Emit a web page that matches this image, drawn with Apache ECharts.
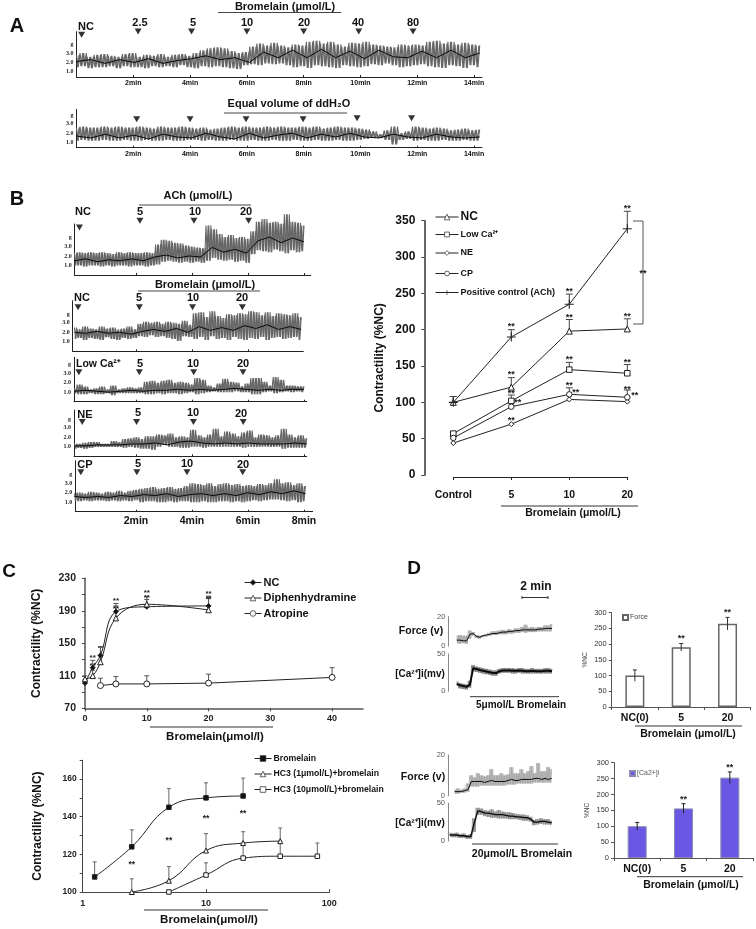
<!DOCTYPE html>
<html><head><meta charset="utf-8">
<style>html,body{margin:0;padding:0;background:#fff}#c{width:756px;height:929px;filter:blur(0.35px)}</style>
<script src="https://cdn.jsdelivr.net/npm/echarts@6/dist/echarts.min.js"></script>
</head><body><div id="c"></div>
<script>
// ---------- Panel A traces (g) ----------
const a1Hi=[2.8,3.0,2.6,2.8,2.9,2.7,2.6,2.9,3.0,2.6,2.8,2.7,2.9,2.6,2.8,2.9,2.7,3.0,3.3,3.5,3.6,3.5,3.2,3.0,3.1,3.7,4.0,3.8,4.1,3.8,3.6,3.9,3.8,4.2,4.3,4.0,4.2,3.9,3.7,4.1,4.0,4.2,3.9,3.8,3.7,3.6,3.9,3.8,3.9,3.8,4.2,4.3,4.0,4.2,3.9,4.1,3.9,3.8];
const a1Lo=[1.5,1.6,1.4,1.5,1.5,1.6,1.4,1.6,1.5,1.5,1.4,1.6,1.5,1.6,1.5,1.7,1.5,1.4,1.6,1.5,1.6,1.5,1.4,1.3,1.7,1.8,1.7,1.9,1.8,1.9,1.7,1.5,1.6,1.4,1.7,1.6,1.5,1.4,1.7,1.6,1.5,1.6,1.8,1.7,1.9,1.7,1.5,1.6,1.7,1.8,1.6,1.5,1.4,1.7,1.6,1.4,1.7,1.5];
const a1Mid=[2.1,2.3,1.9,2.3,2.0,2.4,1.9,2.2,2.4,2.7,2.3,2.5,2.0,3.1,2.5,3.3,2.5,3.4,2.5,3.2,2.4,3.3,2.6,2.5,3.2,2.5,3.3,2.5,3.0];
const a2Hi=[2.6,2.7,2.6,2.6,2.7,2.6,2.7,2.6,2.6,2.7,2.6,2.5,2.7,2.6,2.6,2.7,2.6,2.5,2.6,2.4,2.5,2.6,2.7,2.6,2.7,2.6,2.6,2.7,2.6,2.7,2.6,2.6,2.7,2.6,2.7,2.5,2.6,2.7,2.6,2.6,2.5,2.4,2.2,1.9,2.3,2.7,2.0,2.2,2.7,2.6,2.5,2.6,2.5,2.3,2.4,2.5,2.3,2.4];
const a2Lo=[1.2,1.3,1.2,1.2,1.3,1.2,1.2,1.3,1.2,1.2,1.3,1.2,1.2,1.3,1.2,1.2,1.3,1.3,1.2,1.3,1.2,1.2,1.3,1.2,1.2,1.3,1.2,1.2,1.3,1.2,1.2,1.3,1.2,1.2,1.3,1.2,1.2,1.3,1.2,1.2,1.3,1.4,1.5,1.5,1.3,0.8,1.3,1.4,1.2,1.3,1.2,1.2,1.3,1.2,1.2,1.3,1.2,1.2];
const a2Mid=[1.7,1.5,1.9,1.5,1.8,1.4,1.9,1.6,1.5,2.0,1.6,1.4,2.0,1.5,1.8,2.0,1.5,1.9,1.6,2.0,1.6,1.5,1.9,1.6,1.5,1.9,1.6,1.5,1.6];
const a1ArrowT=[0.18,2.17,4.05,6.0,8.0,9.94,11.85], a1ArrowV=[4.95,5.3,5.3,5.3,5.3,5.3,5.3];
const a2ArrowT=[2.12,4.0,5.97,7.98,9.88,11.8], a2ArrowV=[3.5,3.5,3.5,3.5,3.6,3.6];
// ---------- Panel B traces (g) ----------
const t1Hi=[2.3,2.4,2.3,2.4,2.3,2.4,2.3,2.2,2.4,2.3,2.4,2.3,2.3,2.4,2.3,3.2,3.7,3.6,3.4,3.3,3.1,3.0,2.9,2.8,5.2,4.8,4.3,4.0,4.2,3.9,4.0,3.8,4.6,5.6,5.9,5.5,5.6,5.4,6.4,5.6,5.5,5.2];
const t1Lo=[1.0,1.0,0.9,1.0,1.0,0.9,1.0,0.9,1.0,1.0,0.9,1.0,1.0,0.9,1.0,1.1,1.4,1.5,1.4,1.3,1.4,1.3,1.4,1.3,1.5,1.8,1.6,1.5,1.6,1.4,1.5,1.3,2.2,2.6,2.5,2.4,2.7,2.5,2.3,2.6,2.4,2.5];
const t1Mid=[1.5,1.7,1.4,1.6,1.5,1.7,1.5,1.9,2.1,1.8,2.0,1.9,2.9,2.4,2.7,2.3,3.6,4.0,3.4,3.9,3.5];
const t2Hi=[2.5,2.3,2.6,2.4,2.3,2.6,2.4,2.5,2.3,2.4,2.6,2.3,2.9,3.1,3.0,3.1,2.9,3.1,3.0,2.9,3.2,2.8,4.0,4.1,3.6,4.2,3.7,3.5,3.9,3.8,4.0,3.9,4.2,4.1,3.8,4.1,3.7,4.0,3.9,3.8,4.0,3.6];
const t2Lo=[1.3,1.4,1.2,1.4,1.3,1.2,1.5,1.3,1.2,1.4,1.3,1.4,1.6,1.5,1.7,1.5,1.6,1.4,1.3,1.1,1.6,1.5,1.3,1.5,1.2,1.6,1.3,1.4,1.2,1.5,1.3,1.2,1.4,1.3,1.5,1.2,1.4,1.5,1.3,1.4,1.5,1.2];
const t2Mid=[2.0,1.9,2.1,1.9,2.0,1.8,2.1,2.3,2.1,2.4,2.0,2.6,2.2,2.5,2.2,2.7,2.4,2.8,2.3,2.6,2.3];
const t3Hi=[1.4,1.8,1.6,1.3,1.4,1.6,1.3,1.7,1.3,1.4,1.5,1.4,1.5,2.1,2.2,2.0,2.2,2.3,2.0,2.1,2.0,1.8,2.5,2.3,1.7,1.5,1.9,2.4,2.1,2.0,1.6,1.9,2.5,2.5,2.1,1.7,2.6,2.3,1.7,1.7,1.6,1.6];
const t3Lo=[0.9,0.8,0.8,0.9,0.8,0.8,0.9,0.7,0.9,0.9,0.9,0.9,0.9,0.8,0.8,0.9,0.8,0.9,0.9,0.8,0.9,1.0,0.8,0.9,1.0,1.1,1.0,1.0,1.0,1.1,1.0,1.0,0.8,0.8,1.0,1.1,0.9,1.0,1.1,1.0,1.1,1.0];
const t3Mid=[1.1,1.2,1.1,1.0,1.1,1.2,1.1,1.2,1.2,1.3,1.2,1.3,1.2,1.3,1.4,1.3,1.2,1.3,1.2,1.3,1.3];
const t4Hi=[1.3,1.3,1.4,1.5,1.5,1.3,1.3,1.6,1.5,1.8,1.9,2.0,1.8,2.1,2.1,2.3,2.2,2.4,2.0,2.1,2.0,2.8,2.2,2.0,2.3,2.9,2.1,2.6,2.4,2.1,2.5,2.7,2.0,2.3,2.2,2.0,2.2,2.9,2.3,2.0,2.2,1.9];
const t4Lo=[0.8,0.9,0.8,0.9,1.0,1.0,1.0,1.0,1.0,0.9,1.0,0.9,0.8,0.8,0.7,1.0,1.2,1.0,1.0,0.9,0.9,1.0,1.0,0.9,1.0,1.0,1.0,1.0,1.0,1.0,0.9,1.0,1.0,1.0,1.0,1.0,1.0,0.8,0.9,0.9,0.9,0.9];
const t4Mid=[1.1,1.1,1.2,1.2,1.2,1.3,1.3,1.4,1.2,1.5,1.6,1.4,1.3,1.4,1.3,1.4,1.3,1.3,1.3,1.4,1.3];
const t5Hi=[1.9,2.0,1.9,2.1,2.0,1.9,2.1,2.0,2.2,2.0,2.2,2.3,2.4,2.5,2.6,2.4,2.5,2.6,2.4,2.5,2.7,3.0,2.9,2.8,3.0,2.7,2.9,3.0,2.8,2.9,2.7,2.8,2.7,2.9,2.8,3.0,3.4,3.0,3.1,2.8,3.0,2.7];
const t5Lo=[1.2,1.1,1.2,1.1,1.2,1.2,1.1,1.2,1.1,1.2,1.1,1.2,1.0,1.1,1.1,1.0,1.0,1.1,1.0,1.1,1.1,1.0,1.0,1.1,1.0,1.0,1.1,1.1,1.0,1.1,1.0,1.1,1.2,1.1,1.2,1.3,1.3,1.2,1.1,1.2,1.0,1.1];
const t5Mid=[1.6,1.5,1.6,1.5,1.7,1.6,1.8,1.7,1.9,1.6,1.8,1.9,1.7,1.9,1.7,2.0,1.8,2.1,1.9,2.2,1.9];
const tArrowT=[[-0.02,2.14,4.07,6.02],[-0.07,2.12,4.02,5.8],[-0.04,2.12,4.06,5.82],[0.08,2.02,4.05,5.83],[0.03,2.03,3.82,5.81]];
const tArrowV=[[5.0,5.7,5.7,5.7],[4.65,4.65,4.65,4.65],[3.1,3.1,3.1,3.1],[3.6,3.6,3.6,3.6],[4.15,4.15,4.15,4.15]];
// ---------- Panel B line chart ----------
const bCats=['Control','5','10','20'];
const bX=[0,1,2,3];
const bNC=[100,121,198,201], bNCErr=[108,134,214,215];
const bLow=[57,102,145,140], bLowErr=[59,110,155,152];
const bNE=[44,70,104,101];
const bCP=[51,94,111,107], bCPErr=[53,100,120,117];
const bACh=[100,190,235,339], bAChErr=[108,200,249,363];
const bStars=[[1,206],[1,139.5],[1,114],[1.11,100.6],[1,76],[2,254],[2,218],[2,160],[2,124],[2.11,115],[3,368],[3,219.6],[3,156],[3,119],[3.13,111]];
// ---------- Panel C ----------
const cNCx=[0,1.25,2.5,5,10,20], cNC=[101,120,135,189,195,196], cNCErr=[105,129,146,199,204,208];
const cDiphX=[0,1.25,2.5,5,10,20], cDiph=[106,110,127,181,198,191], cDiphErr=[110,117,145,196,208,205];
const cAtrX=[2.5,5,10,20,40], cAtr=[98,100,100,101,108], cAtrErr=[107,109,110,112,120];
const cStars=[[1.25,134],[1.25,124],[5,203],[5,194],[10,213.6],[10,207],[20,212],[20,206]];
const dBromX=[1.25,2.5,5,10,20], dBrom=[108,124,145,150,151], dBromErr=[116,133,155,158,160.5];
const dH1X=[2.5,5,10,20,40], dH1=[100,106,122,126,127], dH1Err=[107,113.5,131,132,134];
const dH10X=[5,10,20,40,80], dH10=[100,109,118,119,119], dH10Err=[100,115.5,126,127,126];
const dStars=[[2.5,115],[5,128],[10,139.5],[20,142]];
// ---------- Panel D traces ----------
const f1Hi=[7,7.5,7,7,10.5,9.5,7.5,7,7.5,8,9,10,10,10.5,11,10.5,11.5,11,12,12,13,14.5,12.5,13,12.5,13,13,14,14,15];
const f1Lo=[2,1.5,2,1.5,5,7,5.5,5,6,6.5,7,7.5,7.5,8,8,8,8.5,8.5,9,9,9.5,9,9.5,9.5,9.5,10,10,10,10,10];
const f1Mid=[4,4,3.5,3.5,8,8.5,6.5,6,7,7.5,8,8.5,8.5,9,9.5,9.5,10,10,10.5,10.5,11,11,11,11,11,11.5,11.5,12,12,12];
const c1Hi=[13,11,10,9,14,35,33,32,31,30,29,28,28,30,31,31,31,31,30,31,31,30,30,31,30,30,30,31,31,30];
const c1Lo=[7,4,3,2.5,5,27,26,25,24,23,22,21,21,24,25,25,25,24,24,25,24,24,24,24,24,24,24,24,24,24];
const c1Mid=[10,8,7,6,9,31,30,28.5,27.5,26.5,25.5,24.5,24.5,27,28,28,28,27.5,27.5,28,27.5,27,27,27.5,27,27,27,27.5,27.5,27];
const f2Hi=[3,3.5,3,3.5,6,10,9,11,10,9.5,10,13,10,10,11,10,10.5,14,11,11,13,11,12,14.5,11,16,12,12,14,13];
const f2Lo=[1,1,1.5,1.5,2,4.5,4.5,4.5,5,5,5,5,5,5,5,5,5.5,5.5,5.5,6,6,6,6,6,6.5,6.5,6.5,6.5,6.5,6.5];
const f2Mid=[2,2,2,2.5,3,7,7,7,7,6.5,7,7.5,7,7,7,7,7.5,8,7.5,7.5,8,8,8,8,8.5,8.5,8,8.5,8,8.5];
const c2Hi=[11,10,11,9,10,8,9,30,44,43,41,40,42,39,41,39,38,38,37,36,35,35,34,32,28,29,30,29,29,27];
const c2Lo=[6,5,5,4,4,3,3,12,35,35,33,32,31,31,30,30,30,29,29,29,28,27,27,26,21,22,23,22,22,21];
const c2Mid=[8,8,8,7,7,6,6,24,40,39,37,37,36,35,35,35,34,33,33,32,32,31,31,29,25,25,26,26,25,24];
// ---------- Panel D bars ----------
const barCats=['NC(0)','5','20'];
const forceVals=[100,190,265], forceLo=[82,178,245], forceHi=[118,202,285];
const caVals=[100,156,253], caLo=[88,141,235], caHi=[112,171,271];

const FONT='"Liberation Sans",Arial,sans-serif', SERIF='"Liberation Serif",serif';
const option={animation:false,backgroundColor:'#fff',grid:[],xAxis:[],yAxis:[],series:[],legend:[],graphic:{elements:[]}};
const els=option.graphic.elements;
function txt(x,y,text,size,opt={}){
  els.push({type:'text',x,y,rotation:opt.rot||0,silent:true,style:{text,font:`${opt.weight||'bold'} ${size}px ${opt.family||FONT}`,fill:opt.color||'#111',align:opt.align||'center',verticalAlign:'middle'}});
}
function seg(x1,y1,x2,y2,color='#333',w=1){
  els.push({type:'line',silent:true,shape:{x1,y1,x2,y2},style:{stroke:color,lineWidth:w}});
}
function addGrid(left,top,width,height,x,y){
  const i=option.grid.length;
  option.grid.push({left,top,width,height,containLabel:false});
  option.xAxis.push(Object.assign({gridIndex:i,splitLine:{show:false}},x));
  option.yAxis.push(Object.assign({gridIndex:i,splitLine:{show:false}},y));
  return i;
}
const gramLabels={customValues:[1,2,3,3.9],formatter:v=>v>3.5?'g':v.toFixed(1),fontFamily:SERIF,fontWeight:'bold',fontSize:6,color:'#222',margin:3};
function traceY(min,max){return {type:'value',min,max,axisLine:{show:true,onZero:false,lineStyle:{color:'#222',width:1}},axisTick:{show:false},axisLabel:gramLabels};}
function traceX(min,max,labelOpt,tickVals){
  return {type:'value',min,max,axisLine:{show:true,onZero:false,lineStyle:{color:'#222',width:1}},
    axisTick:tickVals?{show:true,customValues:tickVals,length:2,inside:true,lineStyle:{color:'#222'}}:{show:false},
    axisLabel:labelOpt?Object.assign({customValues:tickVals,formatter:v=>v+'min',fontWeight:'bold',fontFamily:FONT,color:'#111'},labelOpt):{show:false}};
}
function addTrace(g,name,hi,lo,mid,t0,t1,gray='#666',w=1.1,mw=1){
  const step=(t1-t0)/(hi.length-1),z1=[],z2=[];
  hi.forEach((h,i)=>{
    const t=t0+i*step,nh=hi[Math.min(i+1,hi.length-1)],nl=lo[Math.min(i+1,lo.length-1)];
    z1.push([t,h],[t+step/4,lo[i]],[t+step/2,nh],[t+3*step/4,nl]);
    z2.push([t+step/8,lo[i]],[t+3*step/8,h],[t+5*step/8,nl],[t+7*step/8,nh]);
  });
  const end=d=>d.filter(p=>p[0]<=t1+1e-6);
  const base={type:'line',xAxisIndex:g,yAxisIndex:g,symbol:'none',clip:false,silent:true};
  option.series.push(Object.assign({},base,{name:name+' envelope',data:end(z1),lineStyle:{color:gray,width:w}}));
  option.series.push(Object.assign({},base,{name:name+' envelope 2',data:end(z2),lineStyle:{color:gray,width:w}}));
  const ms=(t1-t0)/(mid.length-1);
  option.series.push(Object.assign({},base,{name:name+' mean',data:mid.map((v,i)=>[t0+i*ms,v]),lineStyle:{color:'#0a0a0a',width:mw}}));
}
function addArrows(g,ts,vs){
  option.series.push({type:'scatter',name:'additions',xAxisIndex:g,yAxisIndex:g,symbol:'triangle',symbolRotate:180,symbolSize:[7,6],clip:false,silent:true,
    itemStyle:{color:'#000'},data:ts.map((t,i)=>[t,vs[i]])});
}
function addErr(g,xs,lo,hi,color='#444',cap=3.5){
  option.series.push({type:'custom',name:'error',xAxisIndex:g,yAxisIndex:g,clip:false,silent:true,z:1,
    data:xs.map((x,i)=>[x,lo[i],hi[i]]),
    renderItem:(p,api)=>{
      const a=api.coord([api.value(0),api.value(1)]),b=api.coord([api.value(0),api.value(2)]);
      const st={stroke:color,lineWidth:1};
      return {type:'group',children:[
        {type:'line',shape:{x1:a[0],y1:a[1],x2:b[0],y2:b[1]},style:st},
        {type:'line',shape:{x1:b[0]-cap,y1:b[1],x2:b[0]+cap,y2:b[1]},style:st}]};
    }});
}
function addStars(g,pts,size=9){
  option.series.push({type:'custom',name:'significance',xAxisIndex:g,yAxisIndex:g,clip:false,silent:true,z:6,
    data:pts,
    renderItem:(p,api)=>{
      const a=api.coord([api.value(0),api.value(1)]);
      return {type:'text',x:a[0],y:a[1]+1,style:{text:'**',font:`bold ${size}px ${FONT}`,fill:'#222',align:'center',verticalAlign:'middle'}};
    }});
}
const PLUS='path://M-0.12,-1H0.12V-0.12H1V0.12H0.12V1H-0.12V0.12H-1V-0.12H-0.12Z';
function addLine(g,name,xs,ys,sym,size,fill,smooth,extra={}){
  option.series.push(Object.assign({type:'line',name,xAxisIndex:g,yAxisIndex:g,data:xs.map((x,i)=>[x,ys[i]]),symbol:sym,symbolSize:size,showSymbol:true,clip:false,silent:true,z:3,
    smooth,lineStyle:{color:'#222',width:1},itemStyle:{color:fill,borderColor:'#222',borderWidth:1}},extra));
}
const legendLine={width:1};
const legendItem={borderWidth:0.7};
function legendFor(names,left,top,gap,size,w=24,extra={}){
  option.legend.push(Object.assign({data:names,left,top,orient:'vertical',itemGap:gap,itemWidth:w,itemHeight:7,selectedMode:false,padding:0,lineStyle:legendLine,itemStyle:legendItem,
    textStyle:{fontFamily:FONT,fontWeight:'bold',fontSize:size,color:'#111',padding:[0,0,0,-3]},
    formatter:n=>n.replace(' (panel C)','')},extra));
}
// ===== Panel A =====
const gA1=addGrid(76.5,31.7,405.5,45.3,traceX(0,14.28,{fontSize:7,margin:3},[2,4,6,8,10,12,14]),traceY(0.45,5.27));
addTrace(gA1,'Bromelain trace',a1Hi,a1Lo,a1Mid,0,14.2);
addArrows(gA1,a1ArrowT,a1ArrowV);
const gA2=addGrid(76.5,109.3,405.5,38.4,traceX(0,14.28,{fontSize:7,margin:3},[2,4,6,8,10,12,14]),traceY(0.46,4.55));
addTrace(gA2,'ddH2O trace',a2Hi,a2Lo,a2Mid,0,14.2);
addArrows(gA2,a2ArrowT,a2ArrowV);
txt(17,26,'A',20);
txt(285,6.5,'Bromelain (μmol/L)',11); seg(218,12.5,341,12.5,'#444',1);
[['NC',86,27],['2.5',140,23],['5',193,23],['10',247,23],['20',304,23],['40',358,23],['80',413,23]].forEach(a=>txt(a[1],a[2],a[0],11));
txt(289,104,'Equal volume of ddH₂O',11); seg(224,113,347,113,'#444',1);
// ===== Panel B traces =====
const rows=[
 {left:74.7,top:224,h:51,right:310.7,hi:t1Hi,lo:t1Lo,mid:t1Mid,t:[-0.2,8.0],name:'ACh trace'},
 {left:72.7,top:300.7,h:50.6,right:303.3,hi:t2Hi,lo:t2Lo,mid:t2Mid,t:[-0.2,7.9],name:'Bromelain NC trace'},
 {left:74,top:357.3,h:44.4,right:306.7,hi:t3Hi,lo:t3Lo,mid:t3Mid,t:[-0.2,8.0],name:'Low Ca trace'},
 {left:74,top:410,h:46.3,right:306.7,hi:t4Hi,lo:t4Lo,mid:t4Mid,t:[-0.2,8.1],name:'NE trace'},
 {left:75.3,top:460.7,h:51,right:312.7,hi:t5Hi,lo:t5Lo,mid:t5Mid,t:[-0.2,8.05],name:'CP trace'}];
rows.forEach((r,i)=>{
  const xmin=(r.left-80)/28,xmax=(r.right-80)/28;
  const g=addGrid(r.left,r.top,r.right-r.left,r.h,
    i===4?traceX(xmin,xmax,{fontSize:10.5,margin:4},[2,4,6,8]):traceX(xmin,xmax,null,[2,4,6,8]),
    traceY(0,r.h/9.5));
  addTrace(g,r.name,r.hi,r.lo,r.mid,r.t[0],r.t[1]);
  addArrows(g,tArrowT[i],tArrowV[i]);
});
txt(17,199,'B',20);
txt(198,196,'ACh (μmol/L)',11); seg(139,205,251,205,'#444',1);
txt(205,284.5,'Bromelain (μmol/L)',11); seg(138,291,260,291,'#444',1);
[['NC',83,212],['5',140,212],['10',195,212],['20',246,212],
 ['NC',82,298],['5',139,298],['10',193,298],['20',242,298],
 ['5',140,364],['10',193,364],['20',243,364],
 ['NE',85,415],['5',138,413],['10',193,413],['20',241,414],
 ['CP',85,465],['5',138,464],['10',187,464],['20',243,465]].forEach(a=>txt(a[1],a[2],a[0],11));
txt(76,364,'Low Ca²⁺',10.5,{align:'left'});
// ===== Panel B line chart =====
const gB=addGrid(453.3,220.7,174,254.3,
 {type:'value',min:0,max:3,offset:2,axisLine:{show:true,onZero:false,lineStyle:{color:'#222',width:1}},
  axisTick:{show:true,customValues:bX,length:3,lineStyle:{color:'#222'}},
  axisLabel:{customValues:bX,formatter:v=>bCats[v],fontFamily:FONT,fontWeight:'bold',fontSize:10.5,color:'#111',margin:13}},
 {type:'value',min:0,max:350,interval:50,offset:29,name:'Contractility (%NC)',nameLocation:'middle',nameRotate:90,nameGap:39,
  nameTextStyle:{fontFamily:FONT,fontWeight:'bold',fontSize:12,color:'#111',padding:[0,20,0,0]},
  axisLine:{show:true,onZero:false,lineStyle:{color:'#666',width:2}},axisTick:{show:true,length:3,lineStyle:{color:'#444'}},
  axisLabel:{fontFamily:FONT,fontWeight:'bold',fontSize:12,color:'#111',margin:9}});
addErr(gB,bX,bACh,bAChErr); addErr(gB,bX,bNC,bNCErr); addErr(gB,bX,bLow,bLowErr); addErr(gB,bX,bCP,bCPErr);
addLine(gB,'NC',bX,bNC,'triangle',6,'#fff',false);
addLine(gB,'Low Ca²⁺',bX,bLow,'rect',5.5,'#fff',false);
addLine(gB,'NE',bX,bNE,'diamond',5,'#fff',false);
addLine(gB,'CP',bX,bCP,'circle',5.5,'#fff',false);
addLine(gB,'Positive control (ACh)',bX,bACh,PLUS,9,'#222',false,{itemStyle:{color:'#222'}});
addStars(gB,bStars);
option.legend.push({data:[{name:'NC',textStyle:{fontSize:12}}],left:435,top:211,itemWidth:23,itemHeight:7,lineStyle:legendLine,itemStyle:legendItem,selectedMode:false,padding:0,textStyle:{fontFamily:FONT,fontWeight:'bold',color:'#111',padding:[0,0,0,-3]}});
['Low Ca²⁺','NE','CP','Positive control (ACh)'].forEach((n,i)=>{
  option.legend.push({data:[n],left:435,top:[230,248.5,269,288][i],itemWidth:23,itemHeight:6,lineStyle:legendLine,itemStyle:legendItem,selectedMode:false,padding:0,textStyle:{fontFamily:FONT,fontWeight:'bold',fontSize:9,color:'#111',padding:[0,0,0,-3]}});
});
seg(633,221,643,221,'#555',1); seg(643,221,643,324,'#555',1); seg(633,324,643,324,'#555',1);
txt(643,274,'**',9);
seg(501,506,638,506,'#333',1); txt(573,513,'Bromelain (μmol/L)',10.5);
// ===== Panel C top =====
const gC1=addGrid(85,578.3,278,130,
 {type:'value',min:0,max:45,axisLine:{show:true,onZero:false,lineStyle:{color:'#555',width:1.5}},axisTick:{show:true,length:3,customValues:[0,10,20,30,40],lineStyle:{color:'#444'}},
  axisLabel:{customValues:[0,10,20,30,40],fontFamily:FONT,fontWeight:'bold',fontSize:9,color:'#222',margin:6}},
 {type:'value',min:70,max:230,name:'Contractility (%NC)',nameLocation:'middle',nameRotate:90,nameGap:42,
  nameTextStyle:{fontFamily:FONT,fontWeight:'bold',fontSize:12,color:'#111'},
  axisLine:{show:true,onZero:false,lineStyle:{color:'#555',width:1.5}},axisTick:{show:true,length:3,customValues:[70,90,110,130,150,170,190,210,230],lineStyle:{color:'#444'}},
  axisLabel:{customValues:[70,110,150,190,230],fontFamily:FONT,fontWeight:'bold',fontSize:10.5,color:'#222',margin:9}});
addErr(gC1,cNCx,cNC,cNCErr,'#555',2.5); addErr(gC1,cDiphX,cDiph,cDiphErr,'#555',2.5); addErr(gC1,cAtrX,cAtr,cAtrErr,'#555',2.5);
addLine(gC1,'NC (panel C)',cNCx,cNC,'diamond',5,'#111',0.4);
addLine(gC1,'Diphenhydramine',cDiphX,cDiph,'triangle',5.5,'#fff',0.4);
addLine(gC1,'Atropine',cAtrX,cAtr,'circle',6,'#fff',false);
addStars(gC1,cStars,8);
legendFor(['NC (panel C)','Diphenhydramine','Atropine'],244,577,4.5,11,17);
txt(9,572,'C',19);
seg(150,727,273,727,'#333',1); txt(215,736.5,'Bromelain(μmol/l)',11.5);
// ===== Panel C bottom =====
const gC2=addGrid(82.7,760.2,246.6,131.8,
 {type:'log',logBase:10,min:1,max:100,axisLine:{show:true,onZero:false,lineStyle:{color:'#444',width:1}},axisTick:{show:true,length:3,inside:true,lineStyle:{color:'#444'}},
  axisLabel:{fontFamily:FONT,fontWeight:'bold',fontSize:9,color:'#222',margin:7}},
 {type:'value',min:100,max:170,name:'Contractility (%NC)',nameLocation:'middle',nameRotate:90,nameGap:39,
  nameTextStyle:{fontFamily:FONT,fontWeight:'bold',fontSize:12,color:'#111'},
  axisLine:{show:true,onZero:false,lineStyle:{color:'#444',width:1}},axisTick:{show:true,length:3,customValues:[100,110,120,130,140,150,160,170],lineStyle:{color:'#444'}},
  axisLabel:{customValues:[100,120,140,160],fontFamily:FONT,fontWeight:'bold',fontSize:8.5,color:'#222',margin:6}});
addErr(gC2,dBromX,dBrom,dBromErr,'#666',2); addErr(gC2,dH1X,dH1,dH1Err,'#666',2); addErr(gC2,dH10X,dH10,dH10Err,'#666',2);
addLine(gC2,'Bromelain',dBromX,dBrom,'rect',4.5,'#111',0.45);
addLine(gC2,'HC3 (1μmol/L)+bromelain',dH1X,dH1,'triangle',5,'#fff',0.45);
addLine(gC2,'HC3 (10μmol/L)+bromelain',dH10X,dH10,'rect',4.5,'#fff',0.45);
addStars(gC2,dStars,8.5);
legendFor(['Bromelain','HC3 (1μmol/L)+bromelain','HC3 (10μmol/L)+bromelain'],254,754,6.5,8.7,17);
seg(144,910,268,910,'#333',1); txt(209,920,'Bromelain(μmol/l)',11.5);
// ===== Panel D traces =====
function dAxisY(max){return {type:'value',min:0,max,axisLine:{show:true,onZero:false,lineStyle:{color:'#888',width:1}},axisTick:{show:false},
  axisLabel:{customValues:[0,max],fontFamily:FONT,fontSize:7.5,color:'#555',margin:3}};}
const noX={type:'value',min:0,max:8.05,show:false};
const gF1=addGrid(448.3,616.7,105,29.3,noX,dAxisY(20));
addTrace(gF1,'Force 5 μmol/L',f1Hi,f1Lo,f1Mid,0.65,7.95,'#a0a0a0',0.6,1);
const gCa1=addGrid(448.3,654,105,37.3,noX,dAxisY(50));
addTrace(gCa1,'Ca 5 μmol/L',c1Hi,c1Lo,c1Mid,0.65,7.95,'#777',0.7,2);
const gF2=addGrid(448,755,105,40.7,noX,dAxisY(20));
addTrace(gF2,'Force 20 μmol/L',f2Hi,f2Lo,f2Mid,0.51,7.95,'#a0a0a0',0.6,1);
const gCa2=addGrid(448,803.3,105,37.7,noX,dAxisY(50));
addTrace(gCa2,'Ca 20 μmol/L',c2Hi,c2Lo,c2Mid,0.13,7.95,'#888',0.7,1.4);
txt(414,569,'D',19);
txt(536,586.5,'2 min',12); seg(522,597.5,548,597.5,'#333',1); seg(522,596,522,599,'#333',1); seg(548,596,548,599,'#333',1);
txt(421,631.5,'Force (v)',10.5); txt(420,674.5,'[Ca²⁺]i(mv)',10);
seg(470,696.7,559,696.7,'#333',1); txt(521,705,'5μmol/L Bromelain',10);
txt(423,777.5,'Force (v)',10.5); txt(420,823,'[Ca²⁺]i(mv)',10);
seg(472,844,558,844,'#333',1); txt(522,854.5,'20μmol/L Bromelain',10.5);
// ===== Panel D bars =====
function barAxes(name){return [
 {type:'category',data:barCats,axisLine:{show:true,lineStyle:{color:'#555',width:1}},axisTick:{show:true,alignWithLabel:false,length:3,lineStyle:{color:'#555'}},
  axisLabel:{fontFamily:FONT,fontWeight:'bold',fontSize:10.5,color:'#111',margin:6}},
 {type:'value',min:0,max:300,interval:50,name,nameLocation:'middle',nameRotate:90,nameGap:23,
  nameTextStyle:{fontFamily:FONT,fontSize:6.5,color:'#444'},
  axisLine:{show:true,onZero:false,lineStyle:{color:'#555',width:1}},axisTick:{show:true,length:3,lineStyle:{color:'#555'}},
  axisLabel:{fontFamily:FONT,fontSize:7.5,color:'#333',margin:5}}];}
const gBar1=addGrid(611.7,612.7,139,94.3,...barAxes('%NC'));
option.series.push({type:'bar',name:'Force',xAxisIndex:gBar1,yAxisIndex:gBar1,data:forceVals,barWidth:19,silent:true,itemStyle:{color:'#fff',borderColor:'#666',borderWidth:1.5}});
addErr(gBar1,[0,1,2],forceLo,forceHi,'#333',2); option.series[option.series.length-1].z=5;
addStars(gBar1,[[1,222],[2,305]],9);
const gBar2=addGrid(614,762.7,139,95.3,...barAxes('%NC'));
option.series.push({type:'bar',name:'[Ca2+]i',xAxisIndex:gBar2,yAxisIndex:gBar2,data:caVals,barWidth:19,silent:true,itemStyle:{color:'#6a57e3',borderColor:'#8a8ab0',borderWidth:1}});
addErr(gBar2,[0,1,2],caLo,caHi,'#222',2); option.series[option.series.length-1].z=5;
addStars(gBar2,[[1,187],[2,288]],9);
option.legend.push({data:[{name:'Force',icon:'rect'}],left:622,top:614,itemWidth:5,itemHeight:5,selectedMode:false,padding:0,textStyle:{fontFamily:FONT,fontSize:7,color:'#444',padding:[0,0,0,-3]}});
option.legend.push({data:[{name:'[Ca2+]i',icon:'rect'}],left:629,top:770,itemWidth:5,itemHeight:5,selectedMode:false,padding:0,textStyle:{fontFamily:FONT,fontSize:7,color:'#555',padding:[0,0,0,-3]}});
seg(635,726,742,726,'#333',1); txt(688,734,'Bromelain (μmol/L)',10.5);
seg(637,876.7,743,876.7,'#333',1); txt(691,885,'Bromelain (μmol/L)',10.5);

const chart=echarts.init(document.getElementById('c'));
chart.setOption(option);
</script></body></html>
